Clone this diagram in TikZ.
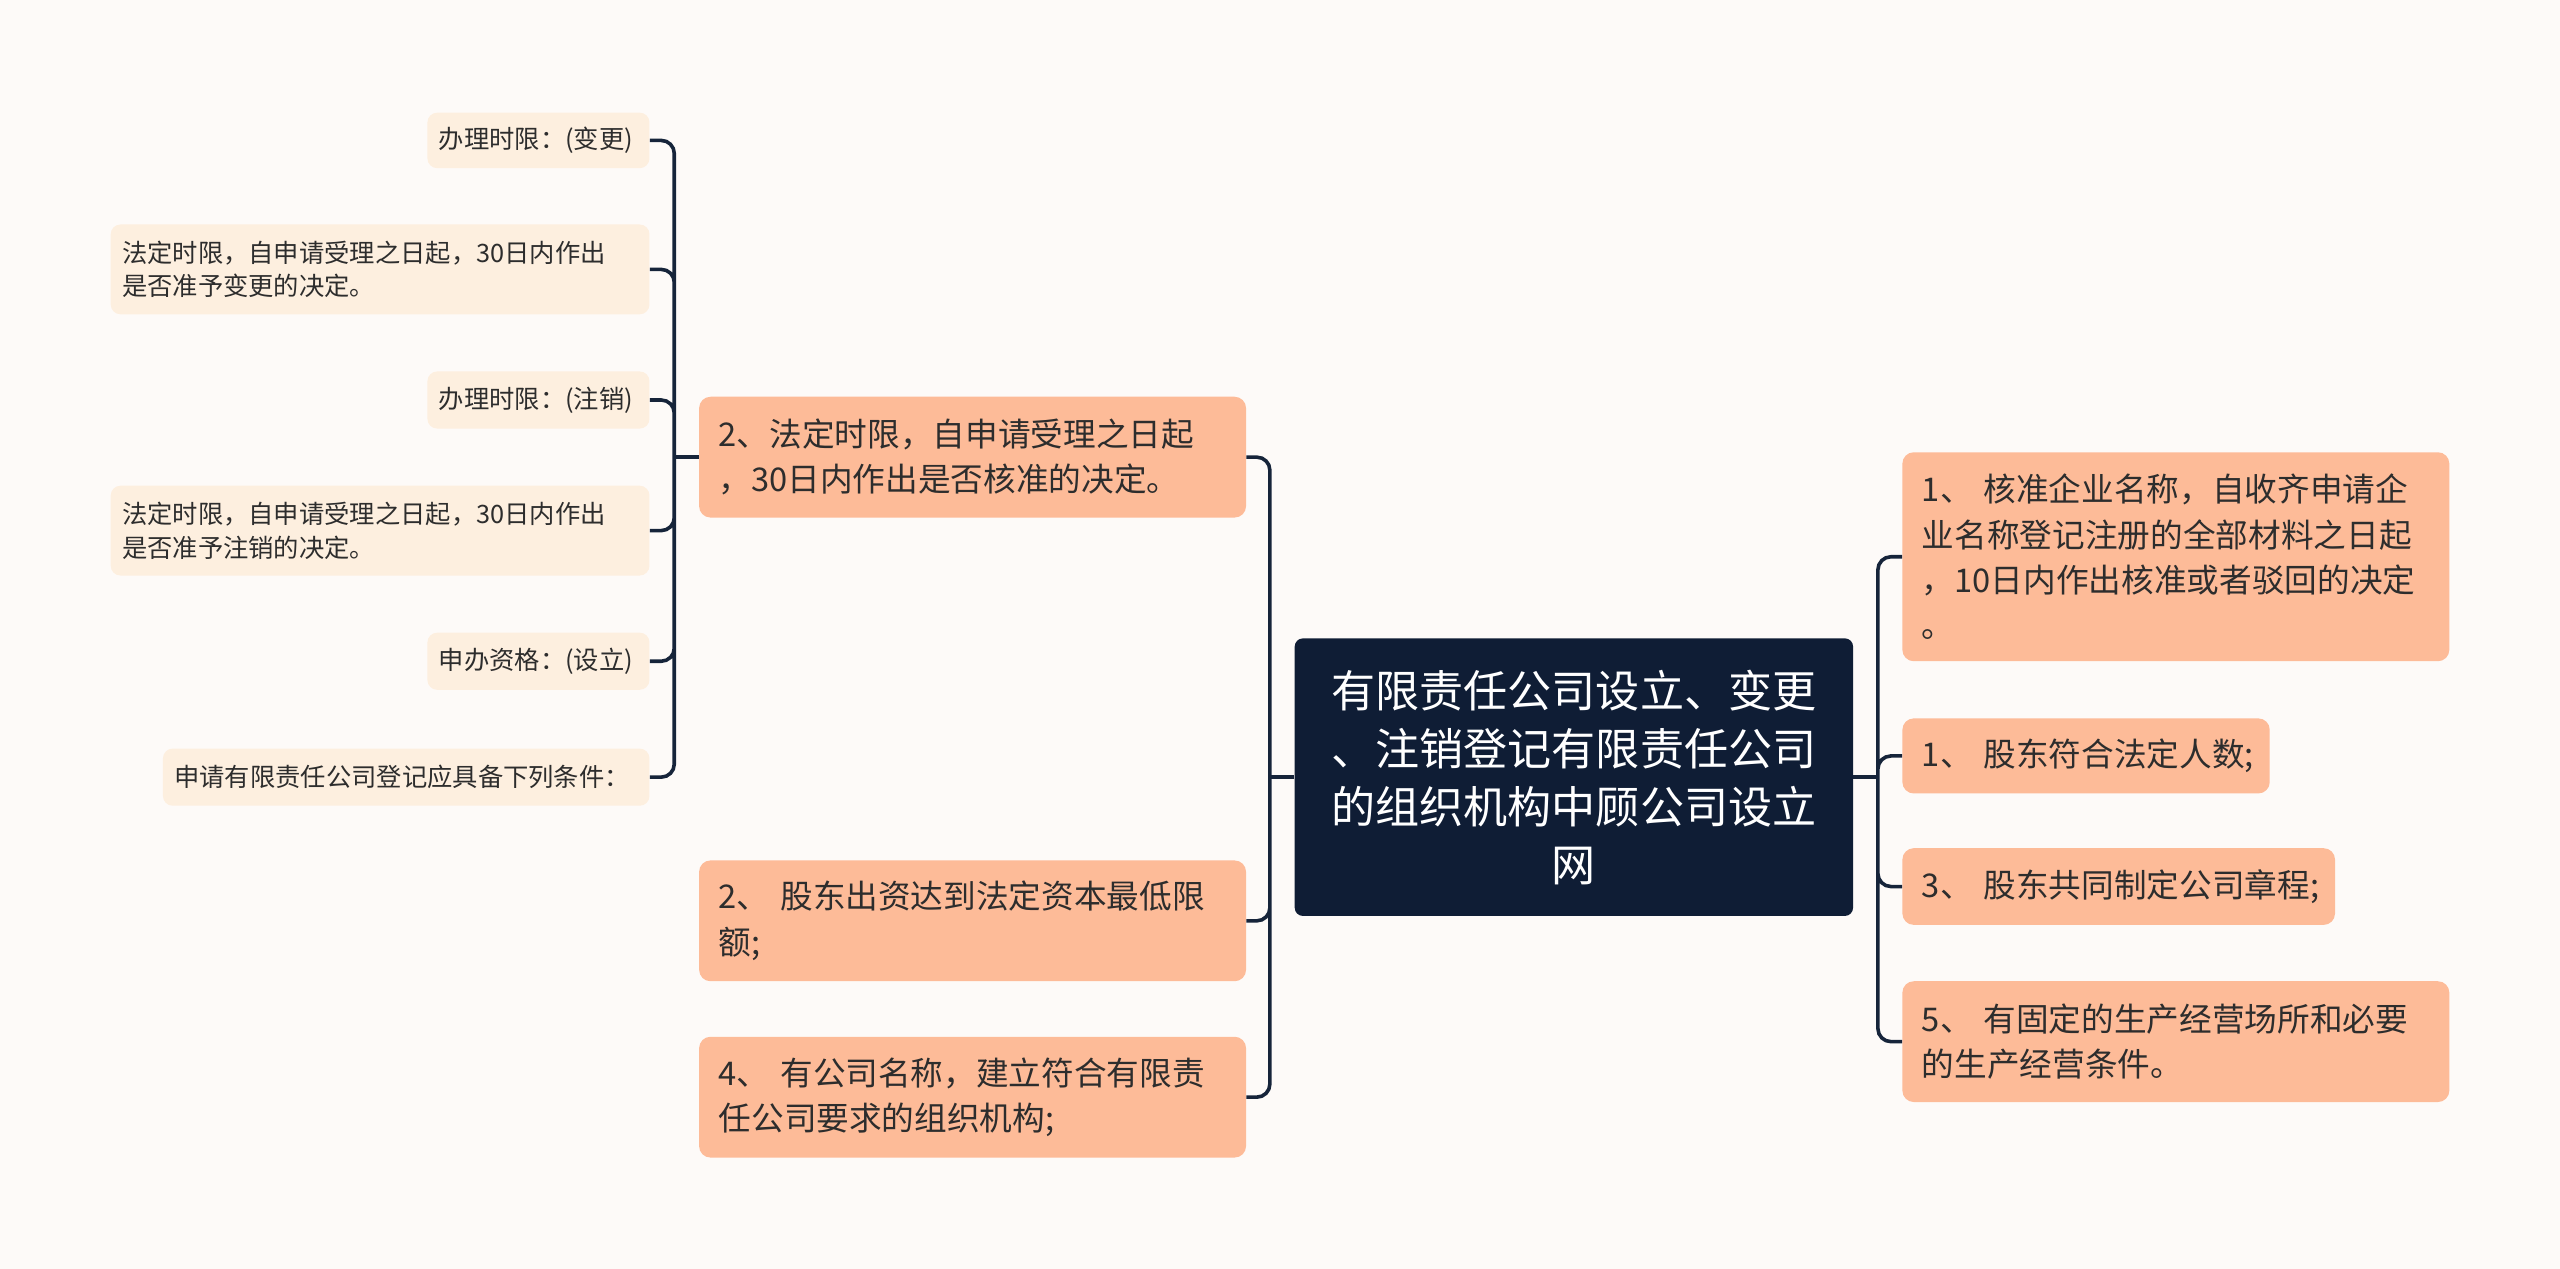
\documentclass[tikz,border=0pt]{standalone}
\usepackage{fontspec}
\setmainfont{Noto Sans CJK SC}
\usepackage{xcolor}
\usetikzlibrary{positioning}

\definecolor{bgpaper}{HTML}{FDFAF8}
\definecolor{rootblue}{HTML}{0F1D35}
\definecolor{peach}{HTML}{FDBB98}
\definecolor{cream}{HTML}{FDEFDF}
\definecolor{inkline}{HTML}{16243A}
\definecolor{textdark}{HTML}{2D2D2D}

\begin{document}
\begin{tikzpicture}[x=1pt,y=-1pt,
    root/.style={fill=rootblue,text=white,rounded corners=5pt,align=center,
      text width=300pt,inner xsep=21pt,inner ysep=0pt,minimum height=170pt,
      font=\fontsize{27}{35.5}\selectfont},
    sub/.style={fill=peach,text=textdark,rounded corners=7pt,align=left,
      inner xsep=12pt,inner ysep=0pt,anchor=west,
      font=\fontsize{20}{27.7}\selectfont},
    leaf/.style={fill=cream,text=textdark,rounded corners=6pt,align=left,
      inner xsep=7pt,inner ysep=0pt,anchor=east,
      font=\fontsize{15.5}{20.5}\selectfont},
    conn/.style={draw=inkline,line width=2.2pt,rounded corners=8pt}]

    \fill[bgpaper] (0,0) rectangle (1568,777);

    \node[root] (root) at (964,476) {有限责任公司设立、变更\\、注销登记有限责任公司\\的组织机构中顾公司设立\\网};

    % right side
    \node[sub,text width=311pt,minimum height=128pt] (r1) at (1165,341) {1、 核准企业名称，自收齐申请企\\业名称登记注册的全部材料之日起\\，10日内作出核准或者驳回的决定\\。};
    \node[sub,text width=201pt,minimum height=46pt] (r2) at (1165,463) {\mbox{1、 股东符合法定人数;}};
    \node[sub,text width=241pt,minimum height=47pt] (r3) at (1165,543) {\mbox{3、 股东共同制定公司章程;}};
    \node[sub,text width=311pt,minimum height=74pt] (r4) at (1165,638) {5、 有固定的生产经营场所和必要\\的生产经营条件。};

    % left side
    \node[sub,text width=311pt,minimum height=74pt] (l1) at (428,280) {2、法定时限，自申请受理之日起\\，30日内作出是否核准的决定。};
    \node[sub,text width=311pt,minimum height=74pt] (l2) at (428,564) {2、 股东出资达到法定资本最低限\\额;};
    \node[sub,text width=311pt,minimum height=74pt] (l3) at (428,672) {4、 有公司名称，建立符合有限责\\任公司要求的组织机构;};

    % leaves of l1
    \node[leaf,text width=122pt,minimum height=34pt] (le1) at (398,86) {办理时限：(变更)};
    \node[leaf,text width=316pt,minimum height=55pt] (le2) at (398,165) {法定时限，自申请受理之日起，30日内作出\\是否准予变更的决定。};
    \node[leaf,text width=122pt,minimum height=35pt] (le3) at (398,245) {办理时限：(注销)};
    \node[leaf,text width=316pt,minimum height=55pt] (le4) at (398,325) {法定时限，自申请受理之日起，30日内作出\\是否准予注销的决定。};
    \node[leaf,text width=122pt,minimum height=35pt] (le5) at (398,405) {申办资格：(设立)};
    \node[leaf,text width=284pt,minimum height=35pt] (le6) at (398,476) {申请有限责任公司登记应具备下列条件：};

    \coordinate (cr) at ([xshift=15pt]root.east);
    \coordinate (cl) at ([xshift=-15pt]root.west);
    \coordinate (ll) at ([xshift=-15pt]l1.west);

    \draw[conn] (root.east) -- (cr)
                (root.west) -- (cl)
                (l1.west) -- (ll);
    \draw[conn] (cr) |- (r1.west)
                (cr) |- (r2.west)
                (cr) |- (r3.west)
                (cr) |- (r4.west);
    \draw[conn] (cl) |- (l1.east)
                (cl) |- (l2.east)
                (cl) |- (l3.east);
    \draw[conn] (ll) |- (le1.east)
                (ll) |- (le2.east)
                (ll) |- (le3.east)
                (ll) |- (le4.east)
                (ll) |- (le5.east)
                (ll) |- (le6.east);
\end{tikzpicture}
\end{document}
